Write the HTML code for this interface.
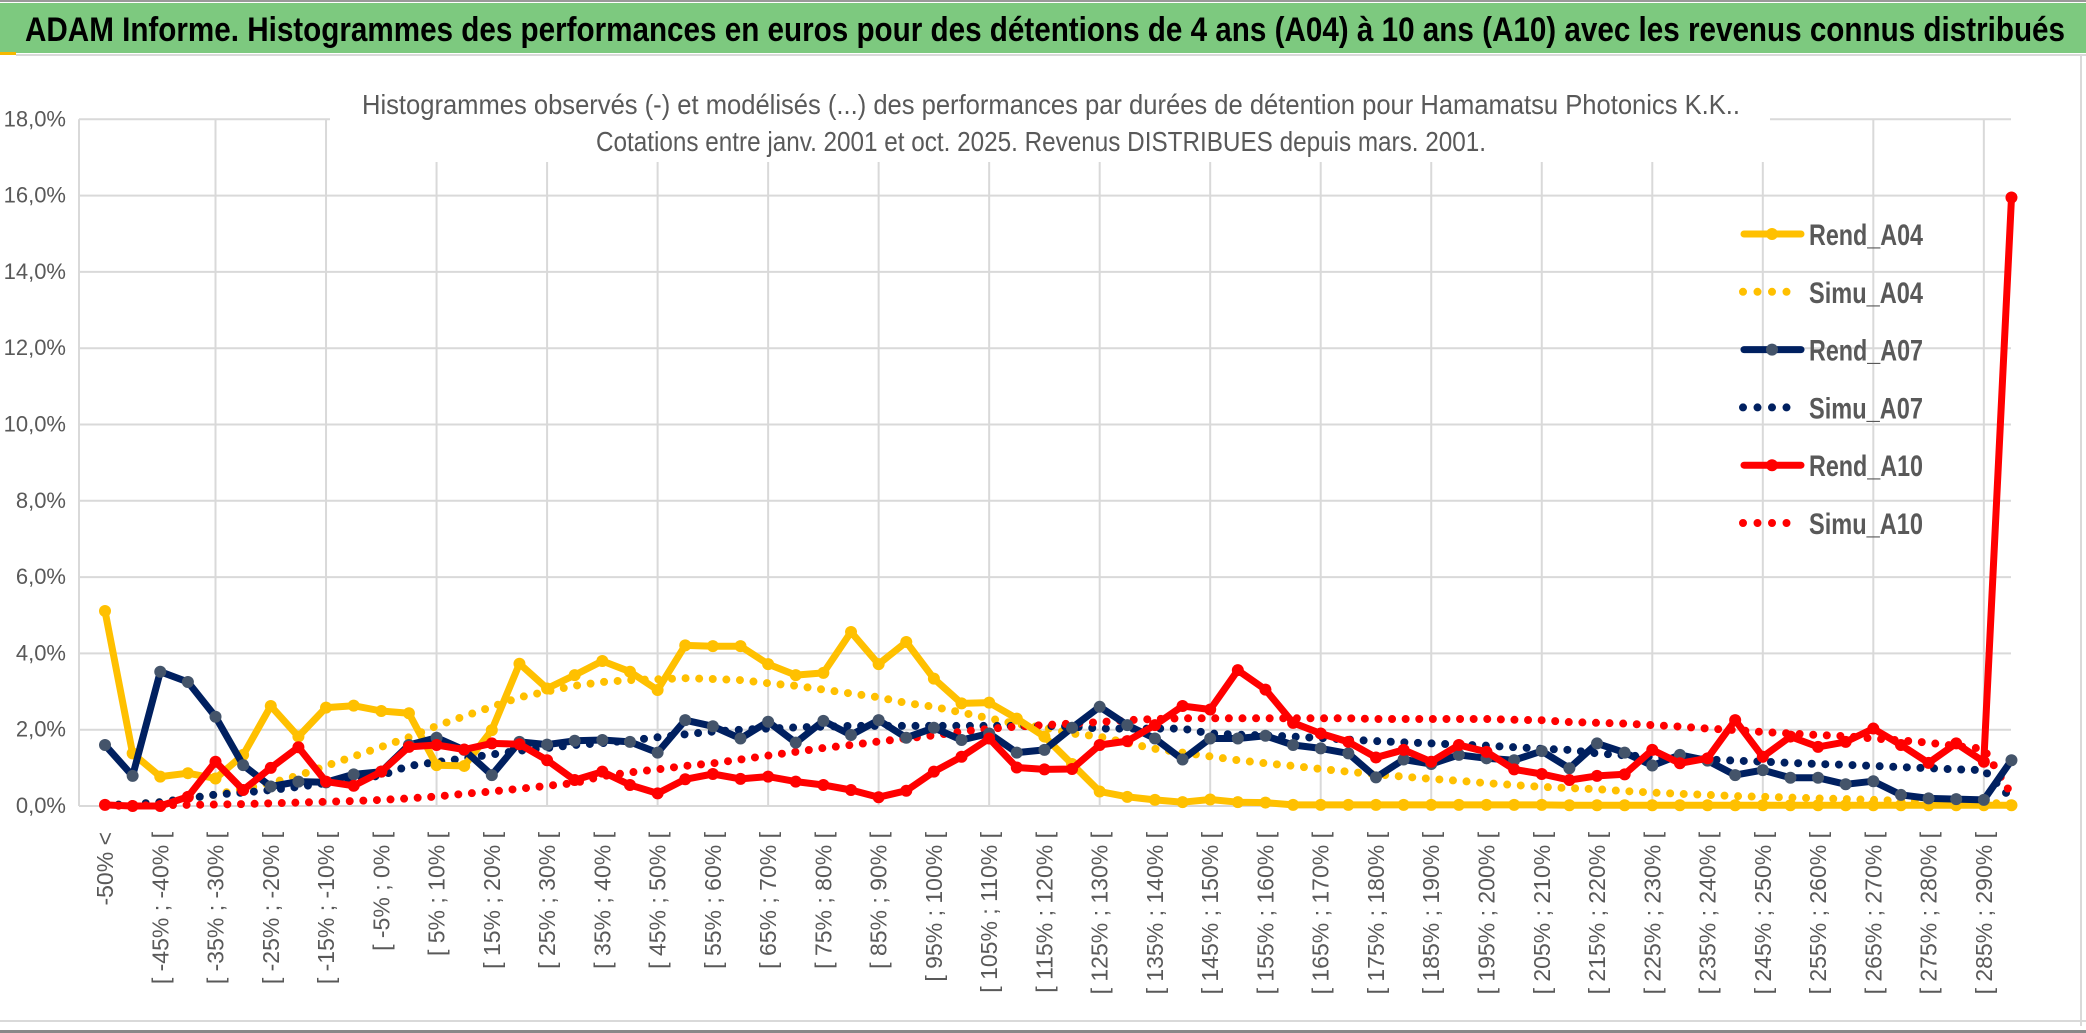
<!DOCTYPE html>
<html><head><meta charset="utf-8"><style>
html,body{margin:0;padding:0;background:#fff;}
svg{display:block;}
text{font-family:"Liberation Sans Narrow","Liberation Sans",sans-serif;}
</style></head><body>
<svg id="chart" width="2086" height="1033" viewBox="0 0 2086 1033" xmlns="http://www.w3.org/2000/svg">
<rect x="0" y="0" width="2086" height="1033" fill="#fff"/>
<rect x="0" y="0" width="2086" height="2" fill="#999"/>
<rect x="0" y="3" width="2086" height="50" fill="#7DC97F"/>
<rect x="0" y="52" width="16" height="3" fill="#F5B800"/>
<rect x="16" y="54" width="2070" height="2" fill="#d9d9d9"/>
<text x="25" y="41" font-size="34" font-weight="bold" fill="#000" textLength="2040" lengthAdjust="spacingAndGlyphs">ADAM Informe. Histogrammes des performances en euros pour des détentions de 4 ans (A04) à 10 ans (A10) avec les revenus connus distribués</text>
<rect x="2080" y="56" width="2" height="970" fill="#d9d9d9"/>
<rect x="0" y="1020" width="2086" height="2" fill="#d9d9d9"/>
<rect x="0" y="1030" width="2086" height="3" fill="#888"/>
<g id="grid"></g>
<g id="yaxis"></g>
<g id="xaxis"></g>
<rect x="330" y="82" width="1440" height="80" fill="#fff"/>
<text x="1051" y="114" font-size="28" fill="#595959" text-anchor="middle" textLength="1378" lengthAdjust="spacingAndGlyphs">Histogrammes observés (-) et modélisés (...) des performances par durées de détention pour Hamamatsu Photonics K.K..</text>
<text x="1041" y="151" font-size="28" fill="#595959" text-anchor="middle" textLength="890" lengthAdjust="spacingAndGlyphs">Cotations entre janv. 2001 et oct. 2025. Revenus DISTRIBUES depuis mars. 2001.</text>
<g id="series"></g>
<g id="legend"></g>
</svg>
<script>
const rendA04 = [5.11,1.38,0.77,0.86,0.72,1.34,2.62,1.82,2.58,2.63,2.49,2.43,1.07,1.05,1.99,3.73,3.08,3.43,3.80,3.52,3.04,4.21,4.19,4.19,3.72,3.43,3.49,4.56,3.72,4.30,3.34,2.69,2.71,2.29,1.82,1.10,0.38,0.24,0.16,0.10,0.17,0.10,0.09,0.03,0.03,0.03,0.03,0.03,0.03,0.03,0.03,0.03,0.03,0.02,0.02,0.02,0.02,0.02,0.02,0.02,0.02,0.02,0.02,0.02,0.02,0.02,0.02,0.02,0.02,0.02];
const simuA04 = [0.02,0.05,0.1,0.2,0.3,0.45,0.6,0.8,1.05,1.3,1.55,1.8,2.1,2.35,2.6,2.85,3.0,3.15,3.25,3.3,3.32,3.35,3.33,3.3,3.22,3.15,3.05,2.95,2.85,2.7,2.6,2.45,2.3,2.15,2.05,1.9,1.82,1.65,1.5,1.4,1.3,1.2,1.12,1.05,0.97,0.9,0.83,0.77,0.71,0.66,0.6,0.55,0.5,0.47,0.44,0.39,0.35,0.32,0.29,0.26,0.24,0.22,0.2,0.18,0.16,0.14,0.12,0.1,0.08,0.06];
const rendA07 = [1.60,0.79,3.52,3.25,2.34,1.07,0.51,0.64,0.62,0.83,0.90,1.60,1.79,1.47,0.81,1.68,1.61,1.71,1.73,1.68,1.40,2.25,2.09,1.77,2.21,1.66,2.23,1.86,2.25,1.79,2.05,1.73,1.90,1.40,1.47,2.05,2.60,2.12,1.77,1.22,1.77,1.77,1.84,1.60,1.51,1.38,0.75,1.22,1.10,1.34,1.25,1.20,1.44,0.99,1.64,1.40,1.06,1.34,1.19,0.81,0.94,0.74,0.74,0.57,0.65,0.29,0.20,0.18,0.16,1.20];
const simuA07 = [0.02,0.05,0.1,0.2,0.3,0.35,0.42,0.5,0.6,0.7,0.8,1.05,1.15,1.25,1.35,1.45,1.52,1.6,1.65,1.72,1.8,1.88,1.95,2.0,2.03,2.06,2.08,2.1,2.1,2.1,2.1,2.1,2.1,2.1,2.1,2.08,2.03,2.03,2.03,2.03,1.9,1.87,1.85,1.82,1.78,1.74,1.7,1.67,1.64,1.61,1.58,1.54,1.5,1.47,1.38,1.33,1.29,1.25,1.22,1.19,1.16,1.13,1.1,1.08,1.05,1.02,0.99,0.96,0.94,0.2];
const rendA10 = [0.03,0,0,0.24,1.16,0.42,1.0,1.54,0.64,0.53,0.90,1.55,1.60,1.48,1.64,1.62,1.20,0.68,0.90,0.55,0.33,0.70,0.84,0.71,0.77,0.64,0.55,0.42,0.23,0.40,0.90,1.29,1.77,1.01,0.96,0.97,1.60,1.70,2.12,2.62,2.53,3.56,3.05,2.18,1.90,1.68,1.27,1.47,1.16,1.60,1.42,0.96,0.84,0.68,0.79,0.83,1.47,1.12,1.25,2.25,1.29,1.82,1.55,1.68,2.03,1.60,1.13,1.64,1.16,15.95];
const simuA10 = [0,0.01,0.02,0.03,0.04,0.05,0.07,0.09,0.11,0.13,0.16,0.2,0.25,0.32,0.38,0.45,0.53,0.6,0.78,0.88,0.96,1.05,1.12,1.22,1.32,1.42,1.52,1.6,1.69,1.77,1.85,1.95,2.02,2.08,2.12,2.16,2.2,2.25,2.28,2.3,2.3,2.3,2.3,2.3,2.3,2.3,2.28,2.28,2.28,2.28,2.28,2.26,2.25,2.2,2.18,2.16,2.12,2.08,2.03,1.99,1.94,1.9,1.86,1.83,1.77,1.72,1.66,1.57,1.5,0.3];
const yTicks = [0,2,4,6,8,10,12,14,16,18];
const categories = ["-50% <"];
for (let k = 1; k < 70; k++) { categories.push("[ " + (-55 + 5*k) + "% ; " + (-50 + 5*k) + "% ["); }

const NS = "http://www.w3.org/2000/svg";
const X0 = 105, DX = 27.63, Y0 = 806, PPU = 38.15;
function xs(i){ return X0 + i*DX; }
function ys(v){ return Y0 - v*PPU; }
function mk(tag, attrs, parent){ const e = document.createElementNS(NS, tag); for (const k in attrs) e.setAttribute(k, attrs[k]); parent.appendChild(e); return e; }

const grid = document.getElementById('grid');
const yaxis = document.getElementById('yaxis');
const xaxis = document.getElementById('xaxis');
const series = document.getElementById('series');
const legend = document.getElementById('legend');

yTicks.forEach(t => {
  const l = mk('line', {x1:79, x2:2011, y1:ys(t), y2:ys(t), stroke:'#d9d9d9', 'stroke-width':2}, grid);
  
  
  const tx = mk('text', {x:66, y:ys(t)+7, 'font-size':22, fill:'#595959', 'text-anchor':'end'}, yaxis);
  tx.textContent = t.toFixed(1).replace('.', ',') + '%';
  
  
});
const vl0 = mk('line', {x1:79, x2:79, y1:ys(18), y2:Y0, stroke:'#d9d9d9', 'stroke-width':2}, grid);


for (let i = 4; i < categories.length; i += 4) {
  const v = mk('line', {x1:xs(i), x2:xs(i), y1:ys(18), y2:Y0, stroke:'#d9d9d9', 'stroke-width':2}, grid);
  
  
}
categories.forEach((c, i) => {
  if (i % 2) return;
  const x = xs(i) + 8, y = 832;
  const t = mk('text', {x:x, y:y, 'font-size':23, fill:'#595959', 'text-anchor':'end', transform:`rotate(-90 ${x} ${y})`}, xaxis);
  t.textContent = c;
  
  
});

function pts(arr){ return arr.map((v,i)=> xs(i).toFixed(1)+','+ys(v).toFixed(1)).join(' '); }
function dotted(arr, color, name){
  const p = mk('polyline', {points:pts(arr), fill:'none', stroke:color, 'stroke-width':8, 'stroke-linecap':'round', 'stroke-dasharray':'0 13.6'}, series);
  
  
}
function solid(arr, color, mcolor, name){
  const g = mk('g', {}, series);
  
  
  mk('polyline', {points:pts(arr), fill:'none', stroke:color, 'stroke-width':7, 'stroke-linejoin':'round'}, g);
  arr.forEach((v,i)=>{
    const c = mk('circle', {cx:xs(i), cy:ys(v), r:6, fill:mcolor}, g);
    
    
  });
}
dotted(simuA04, '#FFC000', 'simu-a04-line');
dotted(simuA07, '#002060', 'simu-a07-line');
dotted(simuA10, '#FF0000', 'simu-a10-line');
solid(rendA04, '#FFC000', '#FFC000', 'rend-a04-line');
solid(rendA07, '#002060', '#44546A', 'rend-a07-line');
solid(rendA10, '#FF0000', '#FF0000', 'rend-a10-line');

const legendNames = ['Rend_A04','Simu_A04','Rend_A07','Simu_A07','Rend_A10','Simu_A10'];
const legendColors = ['#FFC000','#FFC000','#002060','#002060','#FF0000','#FF0000'];
legendNames.forEach((n, k) => {
  const y = 234 + k*57.8;
  const g = mk('g', {}, legend);
  
  
  if (k % 2 === 0) {
    mk('line', {x1:1744, x2:1801, y1:y, y2:y, stroke:legendColors[k], 'stroke-width':7, 'stroke-linecap':'round'}, g);
    mk('circle', {cx:1772, cy:y, r:6, fill: k===2 ? '#44546A' : legendColors[k]}, g);
  } else {
    mk('line', {x1:1743, x2:1800, y1:y, y2:y, stroke:legendColors[k], 'stroke-width':8, 'stroke-linecap':'round', 'stroke-dasharray':'0 14.5'}, g);
  }
  const t = mk('text', {x:1809, y:y+11, 'font-size':30, fill:'#595959', 'font-weight':'bold', textLength:114, lengthAdjust:'spacingAndGlyphs'}, g);
  t.textContent = n;
});
</script>
</body></html>
